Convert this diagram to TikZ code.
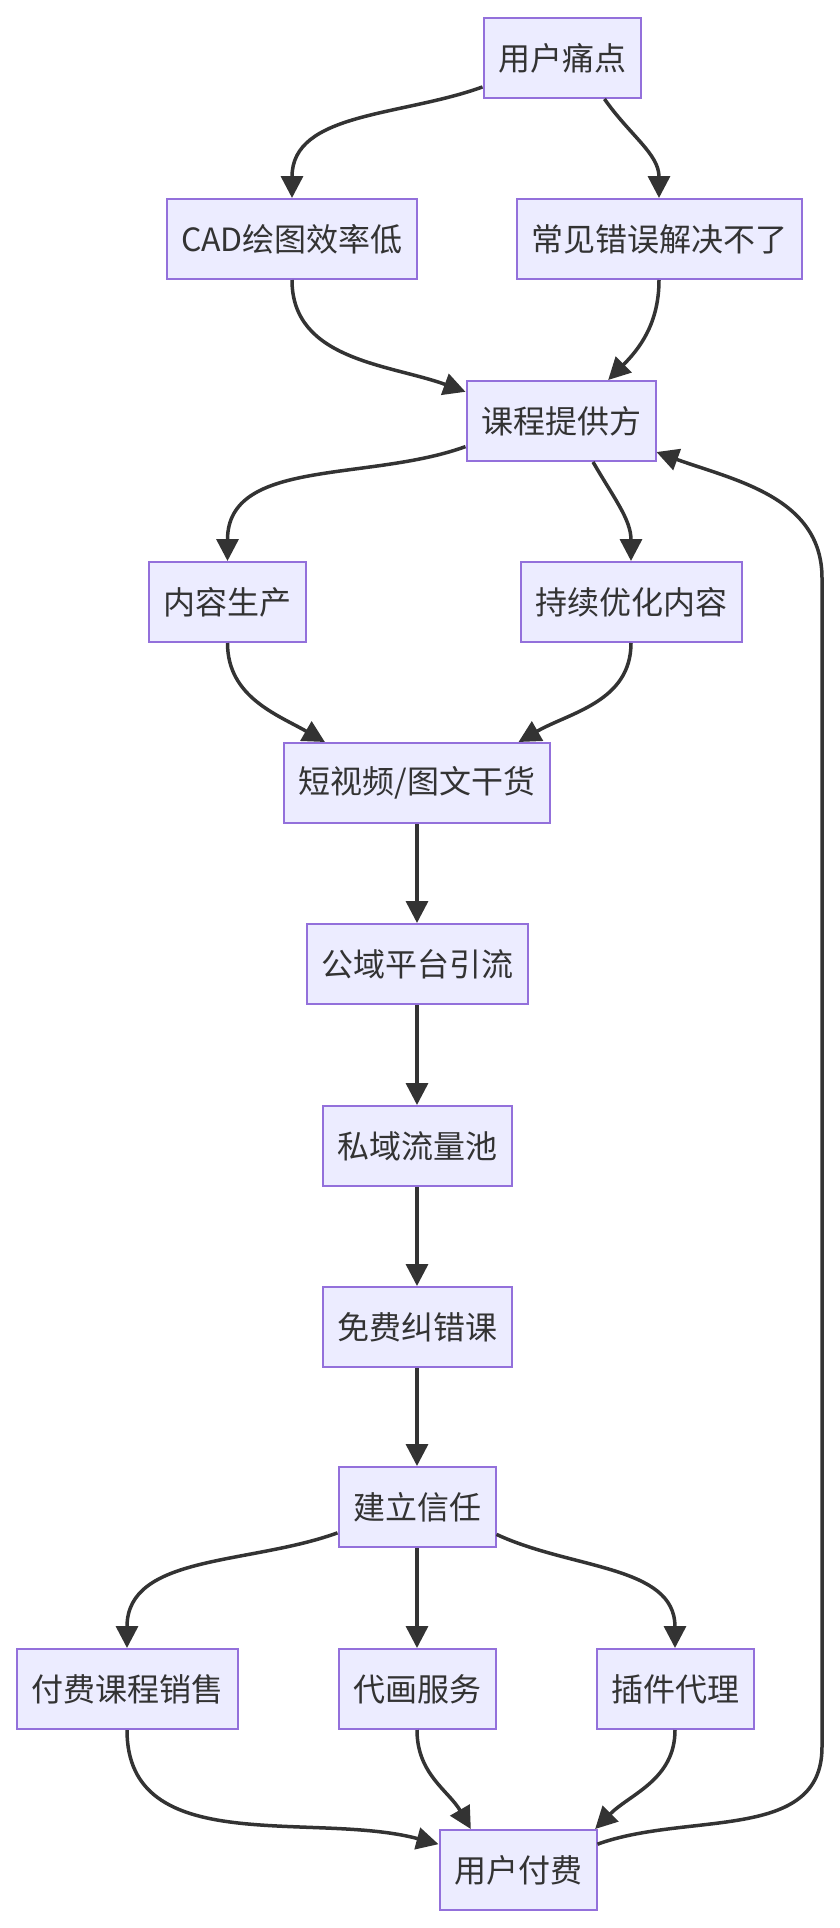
\documentclass[tikz,border=0pt]{standalone}
\usepackage{fontspec}
\setmainfont{Noto Sans CJK SC}
\usepackage{xcolor}
\usetikzlibrary{arrows.meta}
\definecolor{boxfill}{HTML}{ECECFF}
\definecolor{boxline}{HTML}{9370DB}
\definecolor{inkgray}{HTML}{333333}

\begin{document}
\begin{tikzpicture}[x=1pt, y=1pt,
	box/.style={draw=boxline, line width=2pt, fill=boxfill, text=inkgray,
		minimum height=80pt, inner xsep=14.5pt, inner ysep=0pt,
		font=\fontsize{32}{38}\selectfont},
	flow/.style={draw=inkgray, line width=3.5pt,
		-{Triangle[length=22pt, width=22pt]}}]
	
	\path[use as bounding box] (0,0) rectangle (840,-1928);
	
	% ---- top: pain points ----
	\node[box] (pain) at (562,-58) {用户痛点};
	\node[box] (cad) at (292,-239) {CAD绘图效率低};
	\node[box] (err) at (659,-239) {常见错误解决不了};
	
	% ---- provider and content ----
	\node[box] (prov) at (561,-421) {课程提供方};
	\node[box] (cont) at (227.5,-602) {内容生产};
	\node[box] (opt) at (631,-602) {持续优化内容};
	
	% ---- funnel ----
	\node[box] (vid) at (417,-783) {短视频/图文干货};
	\node[box] (pub) at (417,-964) {公域平台引流};
	\node[box] (priv) at (417,-1146) {私域流量池};
	\node[box] (free) at (417,-1327) {免费纠错课};
	\node[box] (trust) at (417,-1507) {建立信任};
	
	% ---- bottom: revenue ----
	\node[box] (sale) at (127,-1689) {付费课程销售};
	\node[box] (proxy) at (417,-1689) {代画服务};
	\node[box] (plug) at (675,-1689) {插件代理};
	\node[box] (pay) at (518,-1870) {用户付费};
	
	\coordinate (lb) at (822,-1747);
	\coordinate (lt) at (822,-578);
	
	\draw[flow] (pain.-160) to[out=-160, in=90] (cad.north);
	\draw[flow] (pain.-44) to[out=-55, in=90] (err.north);
	\draw[flow] (cad.south) to[out=-90, in=160] (prov.163);
	\draw[flow] (err.south) to[out=-90, in=45] (prov.41);
	\draw[flow] (prov.-165) to[out=-160, in=90] (cont.north);
	\draw[flow] (prov.-52) to[out=-60, in=90] (opt.north);
	\draw[flow] (cont.south) to[out=-90, in=150] (vid.156);
	\draw[flow] (opt.south) to[out=-90, in=30] (vid.22);
	\draw[flow] (vid) -- (pub);
	\draw[flow] (pub) -- (priv);
	\draw[flow] (priv) -- (free);
	\draw[flow] (free) -- (trust);
	\draw[flow] (trust.-162) to[out=-160, in=90] (sale.north);
	\draw[flow] (trust) -- (proxy);
	\draw[flow] (trust.-19) to[out=-25, in=90] (plug.north);
	\draw[flow] (sale.south) to[out=-90, in=165] (pay.162);
	\draw[flow] (proxy.south) to[out=-90, in=120] (pay.139);
	\draw[flow] (plug.south) to[out=-90, in=45] (pay.28);
	\draw[flow] (pay.18) to[out=20, in=-90] (lb) -- (lt) to[out=90, in=-20] (prov.-18);
	
\end{tikzpicture}
\end{document}
